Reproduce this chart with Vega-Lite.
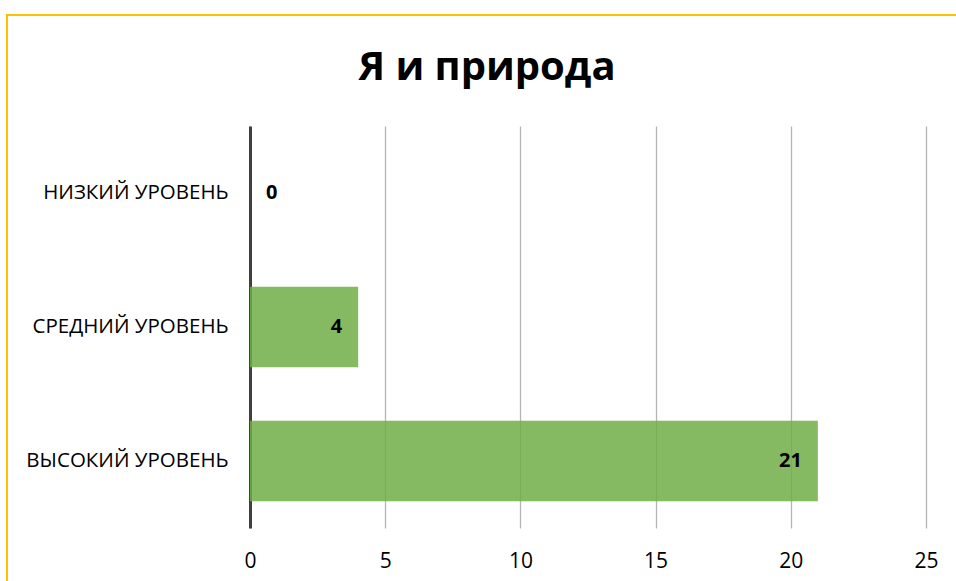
{
  "$schema": "https://vega.github.io/schema/vega-lite/v6.json",
  "autosize": "none",
  "padding": {"left": 7, "top": 15, "right": 0, "bottom": 0},
  "width": 960,
  "height": 624,
  "background": "#ffffff",
  "title": {
    "text": "Я и природа",
    "font": "Open Sans",
    "fontSize": 40,
    "fontWeight": "bold",
    "color": "#000000",
    "anchor": "middle",
    "orient": "top",
    "baseline": "alphabetic",
    "offset": -105
  },
  "data": {
    "values": [
      {"category": "НИЗКИЙ УРОВЕНЬ", "value": 0},
      {"category": "СРЕДНИЙ УРОВЕНЬ", "value": 4},
      {"category": "ВЫСОКИЙ УРОВЕНЬ", "value": 21}
    ]
  },
  "encoding": {
    "y": {
      "field": "category",
      "type": "nominal",
      "sort": ["НИЗКИЙ УРОВЕНЬ", "СРЕДНИЙ УРОВЕНЬ", "ВЫСОКИЙ УРОВЕНЬ"],
      "scale": {"range": [111, 513], "paddingInner": 0.4, "paddingOuter": 0.2},
      "axis": {
        "title": null,
        "orient": "left",
        "offset": -243,
        "domainColor": "#404040",
        "domainWidth": 3,
        "ticks": false,
        "labelPadding": 22,
        "labelLimit": 400,
        "labelFont": "Open Sans",
        "labelFontSize": 20.5,
        "labelColor": "#000000"
      }
    },
    "x": {
      "field": "value",
      "type": "quantitative",
      "scale": {"domain": [0, 25], "range": [243, 919], "nice": false},
      "axis": {
        "title": null,
        "orient": "bottom",
        "offset": -111,
        "values": [0, 5, 10, 15, 20, 25],
        "domain": false,
        "ticks": false,
        "grid": true,
        "gridColor": "#b5b5b5",
        "gridWidth": 1.3,
        "labelFlush": false,
        "labelPadding": 22,
        "labelFont": "Open Sans",
        "labelFontSize": 21,
        "labelColor": "#000000"
      }
    }
  },
  "layer": [
    {
      "mark": {"type": "bar", "color": "#70AD47", "opacity": 0.85}
    },
    {
      "transform": [{"filter": "datum.value > 0"}],
      "mark": {"type": "text", "align": "right", "baseline": "middle", "dx": -16, "font": "Open Sans", "fontSize": 20, "fontWeight": "bold", "color": "#000000"},
      "encoding": {"text": {"field": "value", "type": "quantitative"}}
    },
    {
      "transform": [{"filter": "datum.value == 0"}],
      "mark": {"type": "text", "align": "left", "baseline": "middle", "dx": 16, "font": "Open Sans", "fontSize": 20, "fontWeight": "bold", "color": "#000000"},
      "encoding": {"text": {"field": "value", "type": "quantitative"}}
    }
  ],
  "config": {
    "view": {"stroke": "#FFC000", "strokeWidth": 2, "fill": null}
  }
}
